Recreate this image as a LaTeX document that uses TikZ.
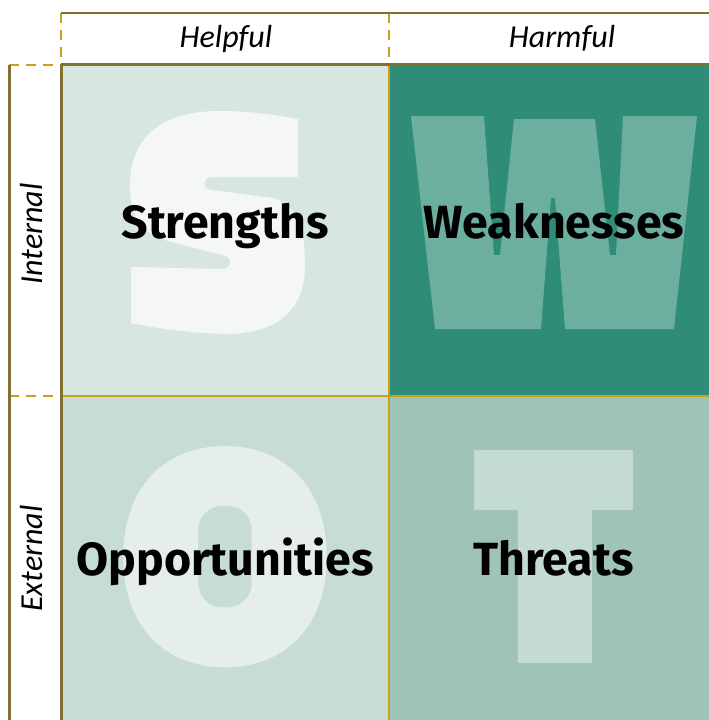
\documentclass[tikz,border=0pt]{standalone}
\usepackage{fontspec}
\setmainfont{Fira Sans}
\newfontfamily\hdrfont{Carlito}
\definecolor{olive}{RGB}{128,112,50}
\definecolor{gold}{RGB}{200,160,25}
\definecolor{sbg}{RGB}{216,230,225}
\definecolor{sfg}{RGB}{244,247,246}
\definecolor{wbg}{RGB}{47,140,119}
\definecolor{wfg}{RGB}{109,175,159}
\definecolor{obg}{RGB}{199,220,213}
\definecolor{ofg}{RGB}{229,238,235}
\definecolor{tbg}{RGB}{159,196,183}
\definecolor{tfg}{RGB}{196,219,212}
\begin{document}
\begin{tikzpicture}[x=1pt,y=-1pt,
  frameline/.style={draw=olive,line width=3pt},
  gridline/.style={draw=gold,line width=1.8pt},
  dashline/.style={draw=gold,line width=1.6pt,dash pattern=on 10pt off 7pt},
  swot/.style={font=\fontsize{46.5}{50}\bfseries\selectfont,anchor=base,inner sep=0pt},
  hdr/.style={font=\hdrfont\fontsize{32}{35}\itshape\selectfont,anchor=base,inner sep=0pt}]
\useasboundingbox (0,0) rectangle (709,720);
% cells
\fill[sbg] (61,64) rectangle (389,396);
\fill[wbg] (389,64) rectangle (709,396);
\fill[obg] (61,396) rectangle (389,720);
\fill[tbg] (389,396) rectangle (709,720);
% big S
\fill[sfg] (298,119) -- (298,177) -- (212,177)
  .. controls (202,177) and (202,190) .. (212,190)
  -- (272,198)
  .. controls (300,205) and (305,235) .. (305,265)
  .. controls (305,312) and (275,334) .. (225,334)
  .. controls (190,333) and (155,328) .. (131,323)
  -- (131,267) -- (222,269)
  .. controls (233,269) and (233,256) .. (222,255)
  -- (168,241)
  .. controls (140,233) and (130,215) .. (130,185)
  .. controls (130,135) and (165,111) .. (220,111)
  .. controls (250,111) and (275,115) .. (298,119) -- cycle;
% big W
\fill[wfg] (411,116) -- (484,116) -- (494,255) -- (500,255) -- (514,119)
  -- (595,119) -- (610,255) -- (616,255) -- (623,116) -- (697,116)
  -- (674,329) -- (565,329) -- (555,198) -- (551,198) -- (541,329)
  -- (435,329) -- cycle;
% big O
\fill[ofg] (123.3,556.7)
  .. controls (123.3,487) and (165,446) .. (225,446)
  .. controls (285,446) and (326.7,487) .. (326.7,556.7)
  .. controls (326.7,627) and (285,667.3) .. (225,667.3)
  .. controls (165,667.3) and (123.3,627) .. (123.3,556.7) -- cycle;
\fill[obg,rounded corners=24pt] (198.3,506) rectangle (251.7,607.3);
% big T
\fill[tfg] (474,450) rectangle (633.3,510);
\fill[tfg] (518,509) rectangle (592,663.3);
% grid lines
\coordinate (tl) at (61,13);
\coordinate (tr) at (709,13);
\coordinate (hl) at (61,64);
\coordinate (hr) at (709,64);
\coordinate (hm) at (389,13);
\coordinate (mm) at (389,64);
\coordinate (mb) at (389,720);
\coordinate (bl) at (61,720);
\coordinate (ml) at (61,396);
\coordinate (mr) at (709,396);
\coordinate (ot) at (9,65);
\coordinate (oc) at (61,65);
\coordinate (om) at (9,396);
\coordinate (ob) at (9,720);
\draw[gridline] (ml) -- (mr);
\draw[gridline,line width=1.3pt] (mm) -- (mb);
\draw[dashline] (tl) -- (hl);
\draw[dashline] (hm) -- (mm);
\draw[dashline] (ot) -- (oc);
\draw[dashline] (om) -- (ml);
\draw[frameline,line width=2.5pt] (tl) -- (tr);
\draw[frameline] (hl) -- (hr);
\draw[frameline] (hl) -- (bl);
\draw[frameline] (ot) -- (ob);
% headers
\node[hdr] (helpful) at (226,47) {Helpful};
\node[hdr] (harmful) at (562,47) {Harmful};
\node[hdr,rotate=90] (internal) at (42,234) {Internal};
\node[hdr,rotate=90] (external) at (42,558.5) {External};
% labels
\node[swot] (s) at (225,238) {Strengths};
\node[swot] (w) at (554,238) {Weaknesses};
\node[swot] (o) at (225,575) {Opportunities};
\node[swot] (t) at (553.5,575) {Threats};
\end{tikzpicture}
\end{document}
